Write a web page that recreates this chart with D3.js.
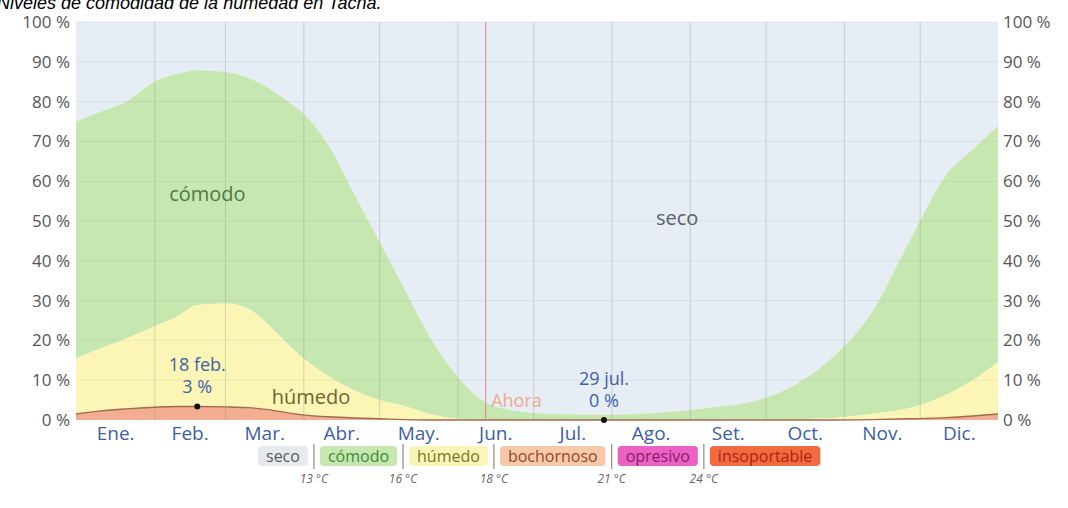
<!DOCTYPE html>
<html>
<head>
<meta charset="utf-8">
<script src="https://cdn.jsdelivr.net/npm/d3@7"></script>
<style>
  html, body { margin: 0; padding: 0; background: #ffffff; overflow: hidden; }
  svg { display: block; }
</style>
</head>
<body>
<svg id="chart" width="1068" height="508"></svg>
<script>
// Day of year for each sample and the share of time (%) in each humidity band
const days       = [0, 10, 20, 31, 40, 48, 59, 68, 76, 84, 90, 100, 110, 120, 130, 140, 151, 162, 175, 190, 209, 230, 250, 270, 285, 300, 315, 330, 345, 355, 365];
const bochornoso = [1.5, 2.3, 2.8, 3.2, 3.4, 3.4, 3.3, 3.1, 2.6, 1.8, 1.3, 0.8, 0.5, 0.3, 0.1, 0, 0, 0, 0, 0, 0, 0, 0, 0, 0, 0, 0.1, 0.3, 0.6, 1.0, 1.5];
const humedo     = [14, 15.7, 17.7, 20.3, 22.6, 25.5, 26, 24.9, 21.4, 17.2, 14.2, 10.2, 7, 4.7, 3.4, 1.5, 0.3, 0, 0, 0, 0, 0, 0, 0.1, 0.2, 0.5, 1.4, 2.7, 5.9, 9, 13];
const comodo     = [59.5, 59.5, 59.5, 61.5, 61, 59, 58.2, 58, 59.5, 61, 61.5, 58, 49.5, 40, 29.5, 19.5, 10.7, 4.5, 2.2, 1.5, 1.3, 1.8, 3, 4.9, 8.8, 15.5, 25.5, 42, 55.5, 58, 59.5];

const monthNames  = ["Ene.", "Feb.", "Mar.", "Abr.", "May.", "Jun.", "Jul.", "Ago.", "Set.", "Oct.", "Nov.", "Dic."];
const monthStarts = [0, 31, 59, 90, 120, 151, 181, 212, 243, 273, 304, 334, 365];
const yTicks      = [0, 10, 20, 30, 40, 50, 60, 70, 80, 90, 100];

const legendNames  = ["seco", "cómodo", "húmedo", "bochornoso", "opresivo", "insoportable"];
const legendTemps  = ["13 °C", "16 °C", "18 °C", "21 °C", "24 °C"];

// Highlighted extremes of the muggy share
const extremeDays   = [48, 209];
const extremeDates  = ["18 feb.", "29 jul."];
const extremeLabels = ["3 %", "0 %"];
const nowDay = 162;

const bandFill   = { bochornoso: "#f2ae90", humedo: "#fcf6b6", comodo: "#c7e7b1", seco: "#e6edf4" };
const legendFill = ["#e5eaef", "#c6e7af", "#fbf6b7", "#f8c9a8", "#ec62c2", "#f06b40"];
const legendText = ["#5a5a5a", "#3f8a3c", "#7b7424", "#8e4b2a", "#8a1c6c", "#b3200f"];

const svg = d3.select("#chart");
const font = "'Open Sans', 'Noto Sans', sans-serif";

const x = d3.scaleLinear().domain([0, 365]).range([76, 998]);
const y = d3.scaleLinear().domain([0, 100]).range([420, 22]);

const rows = days.map((d, i) => {
  const s = bochornoso[i] + humedo[i] + comodo[i];
  return { day: d, bochornoso: bochornoso[i], humedo: humedo[i], comodo: comodo[i], seco: 100 - s };
});
const keys = ["bochornoso", "humedo", "comodo", "seco"];
const series = d3.stack().keys(keys)(rows);

const area = d3.area()
  .x(d => x(d.data.day))
  .y0(d => y(d[0]))
  .y1(d => y(d[1]))
  .curve(d3.curveMonotoneX);

const plot = svg.append("g");
plot.selectAll("path.band")
  .data(series.slice().reverse())
  .join("path")
  .attr("class", "band")
  .attr("d", area)
  .attr("fill", s => bandFill[s.key]);

// outline along the top of the muggy band
const muggyLine = d3.line()
  .x(d => x(d.data.day))
  .y(d => y(d[1]))
  .curve(d3.curveMonotoneX);
plot.append("path")
  .attr("d", muggyLine(series[0]))
  .attr("fill", "none")
  .attr("stroke", "#a4684c")
  .attr("stroke-width", 1.4);

// grid
const grid = svg.append("g");
grid.selectAll("line.h")
  .data(yTicks.slice(1))
  .join("line")
  .attr("x1", x(0)).attr("x2", x(365))
  .attr("y1", d => y(d)).attr("y2", d => y(d))
  .attr("stroke", "#8a9aaa").attr("stroke-opacity", 0.16).attr("stroke-width", 1);
grid.selectAll("line.v")
  .data(monthStarts.slice(1, 12))
  .join("line")
  .attr("x1", d => x(d) + 0.5).attr("x2", d => x(d) + 0.5)
  .attr("y1", y(100)).attr("y2", y(0))
  .attr("stroke", "#7f8c99").attr("stroke-opacity", 0.32).attr("stroke-width", 1);

// current date marker
svg.append("line")
  .attr("x1", x(nowDay) + 0.5).attr("x2", x(nowDay) + 0.5)
  .attr("y1", y(100)).attr("y2", y(0))
  .attr("stroke", "#e57f7f").attr("stroke-width", 1);
svg.append("text")
  .attr("x", x(nowDay) + 6).attr("y", 400)
  .attr("dominant-baseline", "central")
  .attr("font-family", font).attr("font-size", 18)
  .attr("fill", "#f0a98c")
  .text("Ahora");

// y axes on both sides
const yLeft = d3.axisLeft(y).tickValues(yTicks).tickFormat(d => d + " %").tickSize(0).tickPadding(6);
const yRight = d3.axisRight(y).tickValues(yTicks).tickFormat(d => d + " %").tickSize(0).tickPadding(5);
const gl = svg.append("g").attr("transform", `translate(${x(0)},0)`).call(yLeft);
const gr = svg.append("g").attr("transform", `translate(${x(365)},0)`).call(yRight);
[gl, gr].forEach(g => {
  g.select(".domain").remove();
  g.selectAll("text").attr("font-family", font).attr("font-size", 17).attr("fill", "#555");
});

// month labels at mid-month
const monthMid = monthNames.map((m, i) => (monthStarts[i] + monthStarts[i + 1]) / 2);
const xAxis = d3.axisBottom(x).tickValues(monthMid).tickFormat((d, i) => monthNames[i]).tickSize(0).tickPadding(6);
const gx = svg.append("g").attr("transform", `translate(0,${y(0)})`).call(xAxis);
gx.select(".domain").remove();
gx.selectAll("text").attr("font-family", font).attr("font-size", 19).attr("fill", "#3d5ea9");

// band labels
const bandLabels = [
  { t: "cómodo", day: 52, v: 57, c: "#4d7a3f" },
  { t: "seco", day: 238, v: 51, c: "#5a5f66" },
  { t: "húmedo", day: 93, v: 6, c: "#6e6530" }
];
svg.selectAll("text.band")
  .data(bandLabels)
  .join("text")
  .attr("x", d => x(d.day)).attr("y", d => y(d.v))
  .attr("text-anchor", "middle").attr("dominant-baseline", "central")
  .attr("font-family", font).attr("font-size", 20)
  .attr("fill", d => d.c)
  .text(d => d.t);

// extremes: dot plus date and value
extremeDays.forEach((d, i) => {
  const idx = days.indexOf(d);
  const v = bochornoso[idx];
  const cx = x(d);
  const cy = y(v);
  svg.append("circle").attr("cx", cx).attr("cy", cy).attr("r", 3).attr("fill", "#111");
  svg.append("text").attr("x", cx).attr("y", cy - 42)
    .attr("text-anchor", "middle").attr("dominant-baseline", "central")
    .attr("font-family", font).attr("font-size", 18).attr("fill", "#4062aa")
    .text(extremeDates[i]);
  svg.append("text").attr("x", cx).attr("y", cy - 20)
    .attr("text-anchor", "middle").attr("dominant-baseline", "central")
    .attr("font-family", font).attr("font-size", 18).attr("fill", "#4062aa")
    .text(extremeLabels[i]);
});

// title, partly clipped at the top edge
svg.append("text")
  .attr("x", -3).attr("y", 9)
  .attr("font-family", "'Liberation Sans', Arial, sans-serif")
  .attr("font-size", 18).attr("font-style", "italic").attr("fill", "#000")
  .text("Niveles de comodidad de la humedad en Tacna.");

// legend
const lg = svg.append("g");
const boxTop = 446, boxH = 20, pad = 8, gap = 12;
let cursor = 258;
const seps = [];
legendNames.forEach((n, i) => {
  const t = lg.append("text")
    .attr("y", boxTop + boxH / 2)
    .attr("dominant-baseline", "central")
    .attr("font-family", font).attr("font-size", 16)
    .attr("fill", legendText[i])
    .text(n);
  const tw = t.node().getComputedTextLength();
  const bw = tw + pad * 2;
  lg.insert("rect", "text")
    .attr("x", cursor).attr("y", boxTop).attr("width", bw).attr("height", boxH)
    .attr("rx", 4).attr("fill", legendFill[i]);
  t.attr("x", cursor + pad);
  cursor += bw;
  if (i < legendNames.length - 1) {
    seps.push(cursor + gap / 2);
    cursor += gap;
  }
});
seps.forEach((sx, i) => {
  lg.append("line")
    .attr("x1", sx).attr("x2", sx)
    .attr("y1", boxTop - 2).attr("y2", boxTop + boxH + 3)
    .attr("stroke", "#8a8a8a").attr("stroke-width", 1.2);
  lg.append("text")
    .attr("x", sx).attr("y", boxTop + boxH + 12)
    .attr("text-anchor", "middle").attr("dominant-baseline", "central")
    .attr("font-family", font).attr("font-size", 12).attr("font-style", "italic")
    .attr("fill", "#666")
    .text(legendTemps[i]);
});
</script>
</body>
</html>
